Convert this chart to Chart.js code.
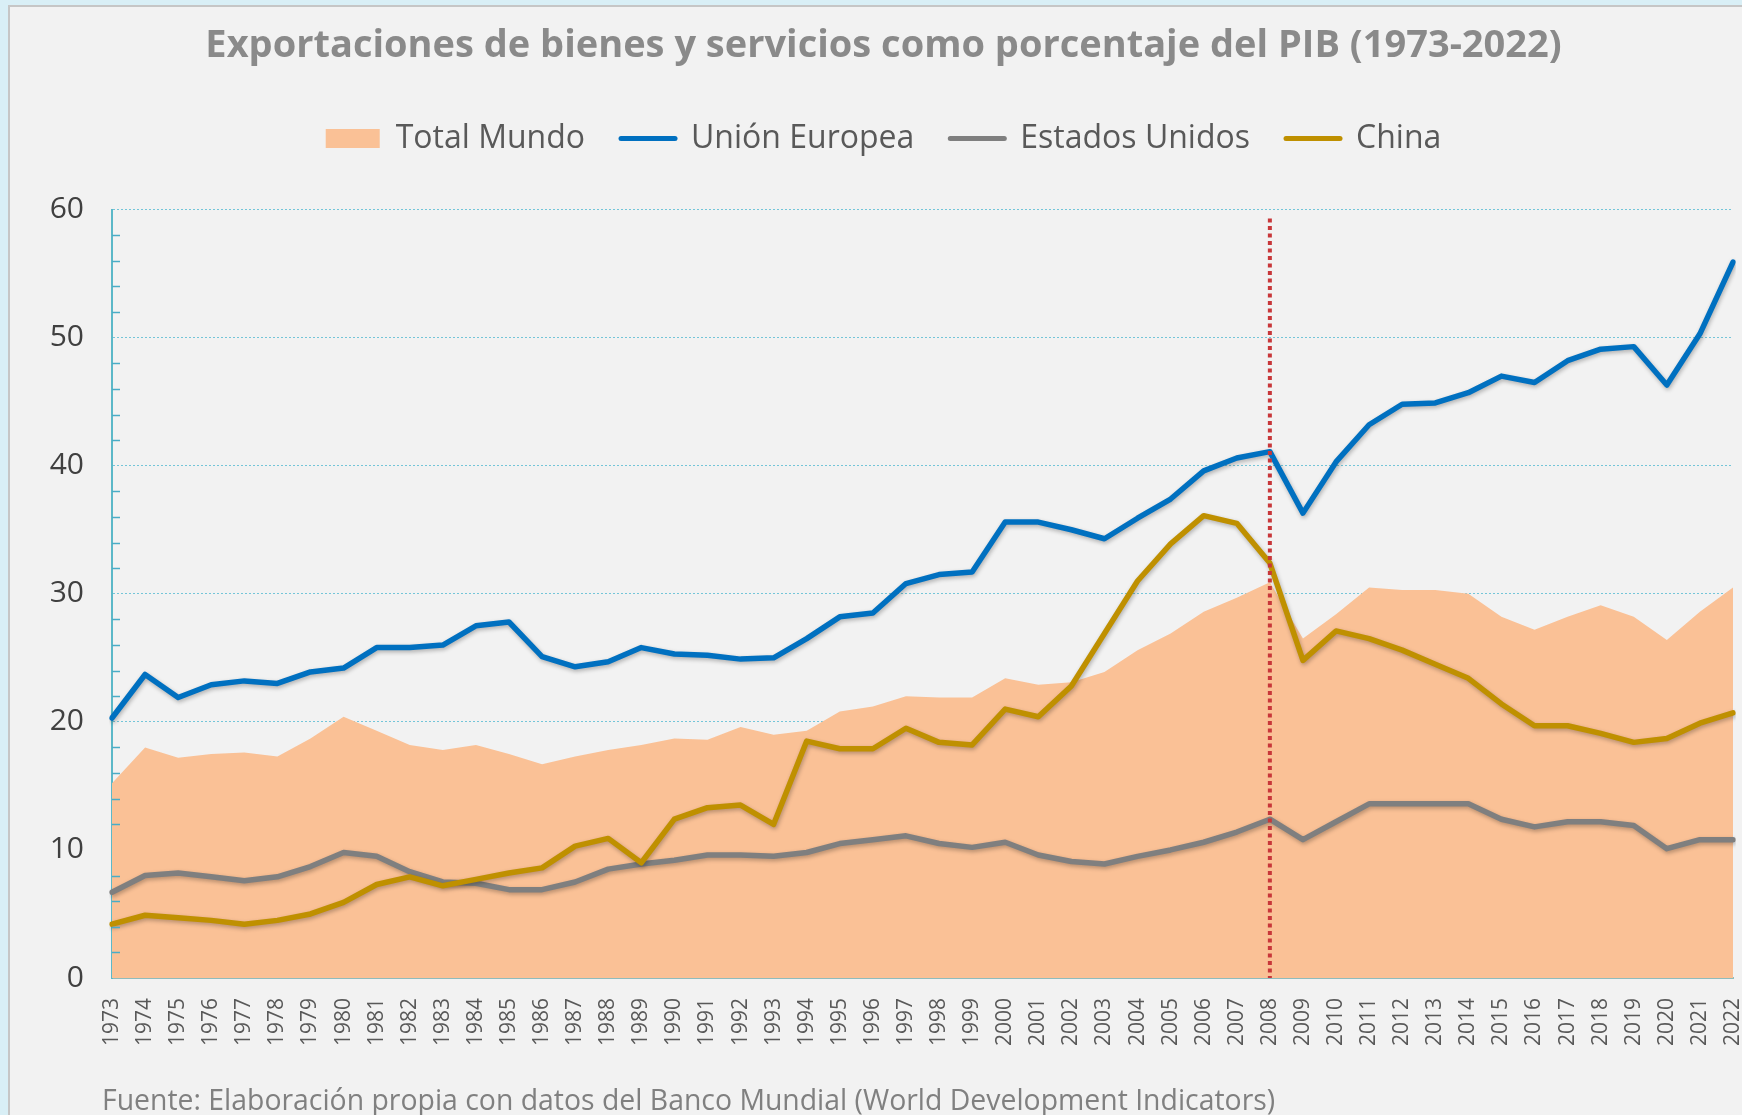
<!DOCTYPE html>
<html lang="es">
<head>
<meta charset="utf-8">
<title>Exportaciones de bienes y servicios como porcentaje del PIB</title>
<script src="https://cdn.jsdelivr.net/npm/chart.js@4.4.1/dist/chart.umd.min.js"></script>
<style>
  html, body { margin: 0; padding: 0; }
  body { width: 1742px; height: 1115px; background: #d9eff6; position: relative; overflow: hidden; font-family: 'Open Sans', sans-serif; }
  #panel { position: absolute; left: 8px; top: 5px; right: -4px; bottom: -4px; background: #f2f2f2; border: 2px solid #c6c6c6; }
  #grafico { position: absolute; left: 0; top: 0; }
  #fuente { position: absolute; left: 102px; top: 1080px; font-size: 28.4px; color: #808080; white-space: nowrap; }
</style>
</head>
<body>
<div id="panel"></div>
<canvas id="grafico" width="1742" height="1115"></canvas>
<div id="fuente">Fuente: Elaboración propia con datos del Banco Mundial (World Development Indicators)</div>
<script>
// datos (% del PIB)
var years = ['1973', '1974', '1975', '1976', '1977', '1978', '1979', '1980', '1981', '1982',
	'1983', '1984', '1985', '1986', '1987', '1988', '1989', '1990', '1991', '1992',
	'1993', '1994', '1995', '1996', '1997', '1998', '1999', '2000', '2001', '2002',
	'2003', '2004', '2005', '2006', '2007', '2008', '2009', '2010', '2011', '2012',
	'2013', '2014', '2015', '2016', '2017', '2018', '2019', '2020', '2021', '2022'];

var totalMundo = [15.2, 18.0, 17.2, 17.5, 17.6, 17.3, 18.7, 20.4, 19.3, 18.2,
	17.8, 18.2, 17.5, 16.7, 17.3, 17.8, 18.2, 18.7, 18.6, 19.6,
	19.0, 19.3, 20.8, 21.2, 22.0, 21.9, 21.9, 23.4, 22.9, 23.1,
	23.9, 25.6, 26.9, 28.6, 29.7, 30.9, 26.5, 28.4, 30.5, 30.3,
	30.3, 30.0, 28.2, 27.2, 28.2, 29.1, 28.2, 26.4, 28.6, 30.5];

var unionEuropea = [20.3, 23.7, 21.9, 22.9, 23.2, 23.0, 23.9, 24.2, 25.8, 25.8,
	26.0, 27.5, 27.8, 25.1, 24.3, 24.7, 25.8, 25.3, 25.2, 24.9,
	25.0, 26.5, 28.2, 28.5, 30.8, 31.5, 31.7, 35.6, 35.6, 35.0,
	34.3, 35.9, 37.4, 39.6, 40.6, 41.1, 36.3, 40.3, 43.2, 44.8,
	44.9, 45.7, 47.0, 46.5, 48.2, 49.1, 49.3, 46.3, 50.3, 55.9];

var estadosUnidos = [6.7, 8.0, 8.2, 7.9, 7.6, 7.9, 8.7, 9.8, 9.5, 8.3,
	7.5, 7.4, 6.9, 6.9, 7.5, 8.5, 8.9, 9.2, 9.6, 9.6,
	9.5, 9.8, 10.5, 10.8, 11.1, 10.5, 10.2, 10.6, 9.6, 9.1,
	8.9, 9.5, 10.0, 10.6, 11.4, 12.4, 10.8, 12.2, 13.6, 13.6,
	13.6, 13.6, 12.4, 11.8, 12.2, 12.2, 11.9, 10.1, 10.8, 10.8];

var china = [4.2, 4.9, 4.7, 4.5, 4.2, 4.5, 5.0, 5.9, 7.3, 7.9,
	7.2, 7.7, 8.2, 8.6, 10.3, 10.9, 9.0, 12.4, 13.3, 13.5,
	12.0, 18.5, 17.9, 17.9, 19.5, 18.4, 18.2, 21.0, 20.4, 22.8,
	26.9, 31.0, 33.9, 36.1, 35.5, 32.4, 24.8, 27.1, 26.5, 25.6,
	24.5, 23.4, 21.4, 19.7, 19.7, 19.1, 18.4, 18.7, 19.9, 20.7];

var seriesNames = ['Total Mundo', 'Unión Europea', 'Estados Unidos', 'China'];
var seriesColors = ['#fac196', '#0070c0', '#7f7f7f', '#bf9000'];
var yMin = 0, yMax = 60, yStep = 10, yMinorStep = 2;
var markerYear = '2008';

var el = document.getElementById('grafico');
var ctx_chart = el.getContext('2d');

// deja aire entre la leyenda y el area del grafico
var legendSpace = {
	id: 'legendSpace',
	beforeUpdate: function (chart) {
		if (!chart.legend || chart.legend._spaced) return;
		var fit = chart.legend.fit;
		chart.legend.fit = function () {
			fit.call(this);
			this.height += 45;
		};
		chart.legend._spaced = true;
	}
};

// sombra suave bajo las lineas
var lineShadow = {
	id: 'lineShadow',
	beforeDatasetDraw: function (chart, args) {
		if (args.index === 0) return;
		var c = chart.ctx;
		c.save();
		c.shadowColor = 'rgba(0,0,0,0.28)';
		c.shadowBlur = 4;
		c.shadowOffsetX = 1;
		c.shadowOffsetY = 2;
	},
	afterDatasetDraw: function (chart, args) {
		if (args.index === 0) return;
		chart.ctx.restore();
	}
};

// marcas menores del eje Y y linea roja de 2008
var overlay = {
	id: 'overlay',
	afterDatasetsDraw: function (chart) {
		var c = chart.ctx;
		var xs = chart.scales.x, ys = chart.scales.y;
		var area = chart.chartArea;
		c.save();
		c.strokeStyle = '#4aacc6';
		c.lineWidth = 1.5;
		for (var v = yMin + yMinorStep; v < yMax; v += yMinorStep) {
			if (v % yStep === 0) continue;
			var py = Math.round(ys.getPixelForValue(v)) + 0.5;
			c.beginPath();
			c.moveTo(area.left, py);
			c.lineTo(area.left + 8, py);
			c.stroke();
		}
		var px = xs.getPixelForValue(years.indexOf(markerYear));
		c.strokeStyle = '#c8373a';
		c.lineWidth = 4;
		c.setLineDash([4, 3.5]);
		c.beginPath();
		c.moveTo(px, ys.getPixelForValue(59.3));
		c.lineTo(px, area.bottom);
		c.stroke();
		c.restore();
	}
};

var chart_object = new Chart(ctx_chart, {
	type: 'line',
	data: {
		labels: years,
		datasets: [{
			label: seriesNames[0],
			data: totalMundo,
			backgroundColor: seriesColors[0],
			borderColor: seriesColors[0],
			borderWidth: 0,
			fill: 'origin',
			pointRadius: 0,
			order: 4
		}, {
			label: seriesNames[1],
			data: unionEuropea,
			borderColor: seriesColors[1],
			borderWidth: 5.5,
			pointRadius: 0,
			fill: false,
			order: 3
		}, {
			label: seriesNames[2],
			data: estadosUnidos,
			borderColor: seriesColors[2],
			borderWidth: 5.5,
			pointRadius: 0,
			fill: false,
			order: 2
		}, {
			label: seriesNames[3],
			data: china,
			borderColor: seriesColors[3],
			borderWidth: 5.5,
			pointRadius: 0,
			fill: false,
			order: 1
		}]
	},
	options: {
		responsive: false,
		animation: false,
		devicePixelRatio: 1,
		layout: { padding: { left: 34, right: 9, top: 0, bottom: 0 } },
		elements: { line: { tension: 0, borderJoinStyle: 'round', borderCapStyle: 'round' } },
		plugins: {
			tooltip: { enabled: false },
			title: {
				display: true,
				text: 'Exportaciones de bienes y servicios como porcentaje del PIB (1973-2022)',
				color: '#8a8a8a',
				font: { family: "'Open Sans', sans-serif", size: 38, weight: 'bold' },
				padding: { top: 23, bottom: 18 }
			},
			legend: {
				display: true,
				position: 'top',
				labels: {
					usePointStyle: true,
					pointStyleWidth: 54,
					boxHeight: 19,
					padding: 36,
					color: '#595959',
					font: { family: "'Open Sans', sans-serif", size: 32 },
					generateLabels: function (chart) {
						return chart.data.datasets.map(function (ds, i) {
							return {
								text: ds.label,
								datasetIndex: i,
								fillStyle: seriesColors[i],
								strokeStyle: seriesColors[i],
								lineWidth: i === 0 ? 0 : 5,
								lineCap: 'round',
								pointStyle: i === 0 ? 'rect' : 'line',
								fontColor: '#595959',
								hidden: false
							};
						});
					}
				}
			}
		},
		scales: {
			x: {
				offset: false,
				grid: { display: false, drawTicks: false },
				border: { display: true, color: '#8fbcbc', width: 2 },
				ticks: {
					autoSkip: false,
					maxRotation: 90,
					minRotation: 90,
					padding: 20,
					color: '#595959',
					font: { family: "'Open Sans', sans-serif", size: 21 }
				},
				afterFit: function (s) {
					s.height = 137;
					s.paddingLeft = 0;
					s.paddingRight = 0;
				}
			},
			y: {
				min: yMin,
				max: yMax,
				grid: { color: '#74c5d8', lineWidth: 1, drawTicks: false },
				border: { display: true, color: '#5cb8c8', width: 2, dash: [2, 2] },
				ticks: {
					stepSize: yStep,
					padding: 28,
					color: '#404040',
					font: { family: "'Open Sans', sans-serif", size: 30 }
				},
				afterFit: function (s) {
					s.width = 78;
				}
			}
		}
	},
	plugins: [legendSpace, lineShadow, overlay]
});
</script>
</body>
</html>
